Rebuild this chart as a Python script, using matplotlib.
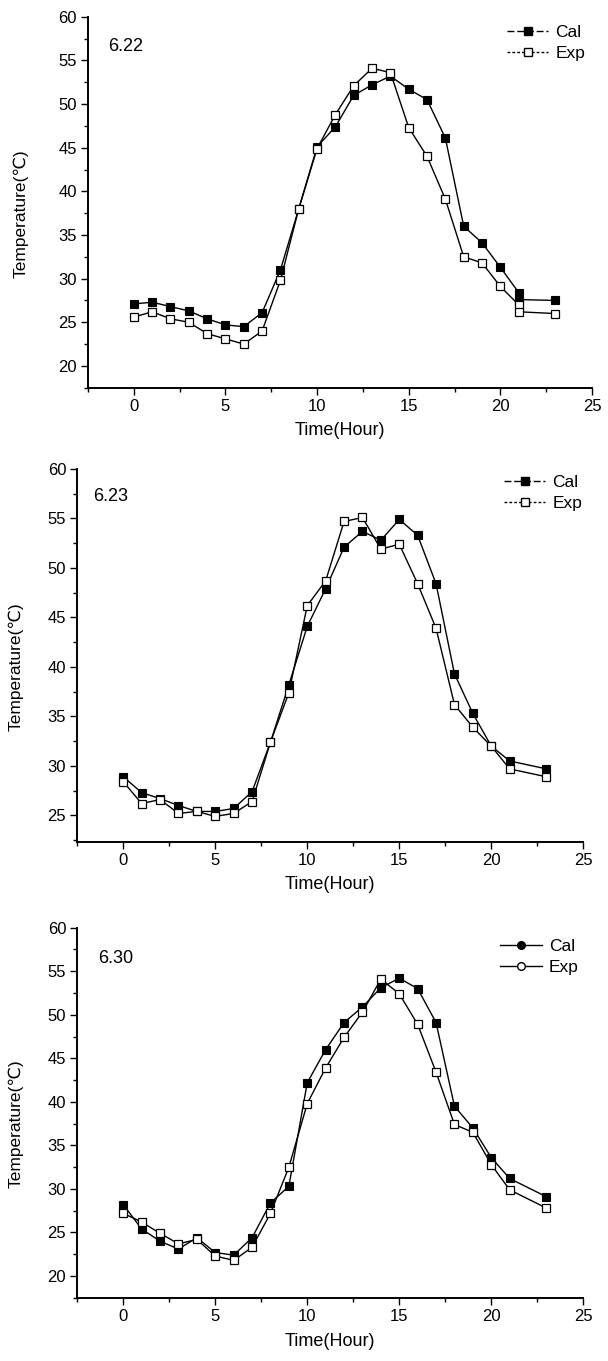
import matplotlib
matplotlib.use("Agg")
import matplotlib.pyplot as plt
from matplotlib.lines import Line2D
from matplotlib.ticker import MultipleLocator

plt.rcParams["font.family"] = ["Liberation Sans", "DejaVu Sans"]

# 6.22 (hour 21 appears twice in the source figure)
hours_622 = [0, 1, 2, 3, 4, 5, 6, 7, 8, 9, 10, 11, 12, 13, 14, 15, 16, 17, 18, 19, 20, 21, 21, 23]
cal_622 = [27.1, 27.3, 26.8, 26.3, 25.4, 24.7, 24.5, 26.1, 31.0, 38.0, 45.1, 47.4, 51.0, 52.2,
           53.2, 51.7, 50.5, 46.1, 36.0, 34.1, 31.3, 28.4, 27.6, 27.5]
exp_622 = [25.6, 26.2, 25.4, 25.0, 23.7, 23.1, 22.5, 24.0, 29.8, 38.0, 44.9, 48.8, 52.1, 54.1,
           53.6, 47.3, 44.0, 39.1, 32.5, 31.8, 29.1, 27.0, 26.2, 26.0]

# 6.23
hours_623 = [0, 1, 2, 3, 4, 5, 6, 7, 8, 9, 10, 11, 12, 13, 14, 15, 16, 17, 18, 19, 20, 21, 23]
cal_623 = [28.9, 27.3, 26.7, 26.0, 25.4, 25.4, 25.7, 27.4, 32.4, 38.2, 44.1, 47.9, 52.1, 53.7,
           52.8, 54.9, 53.3, 48.4, 39.3, 35.3, 32.0, 30.5, 29.7]
exp_623 = [28.4, 26.2, 26.6, 25.2, 25.4, 24.9, 25.2, 26.4, 32.4, 37.4, 46.2, 48.7, 54.7, 55.1,
           51.9, 52.4, 48.4, 43.9, 36.2, 33.9, 32.0, 29.7, 28.9]

# 6.30
hours_630 = [0, 1, 2, 3, 4, 5, 6, 7, 8, 9, 10, 11, 12, 13, 14, 15, 16, 17, 18, 19, 20, 21, 23]
cal_630 = [28.2, 25.4, 24.0, 23.1, 24.4, 22.7, 22.4, 24.4, 28.4, 30.3, 42.2, 46.0, 49.1, 50.9,
           53.1, 54.2, 53.0, 49.1, 39.5, 37.0, 33.6, 31.2, 29.1]
exp_630 = [27.2, 26.2, 24.9, 23.7, 24.2, 22.3, 21.8, 23.3, 27.2, 32.5, 39.8, 43.9, 47.4, 50.3,
           54.1, 52.4, 48.9, 43.4, 37.4, 36.5, 32.8, 29.9, 27.8]

# day, data, axes rect, y bottom, legend marker, legend anchor, day-label pos, ylabel x
panels = [
    ("6.22", hours_622, cal_622, exp_622, [0.1447, 0.7151, 0.8290, 0.2726], 17.5, "s",
     (0.831, 0.978), (0.040, 0.919), -0.117),
    ("6.23", hours_623, cal_623, exp_623, [0.1271, 0.3816, 0.8322, 0.2738], 22.35, "s",
     (0.843, 0.985), (0.031, 0.925), -0.106),
    ("6.30", hours_630, cal_630, exp_630, [0.1271, 0.0461, 0.8322, 0.2723], 17.45, "o",
     (0.836, 0.970), (0.041, 0.918), -0.106),
]

fig = plt.figure(figsize=(6.08, 13.61), dpi=100)

for day, hrs, cal, exp, pos, ymin, leg_marker, leg_xy, day_xy, ylab_x in panels:
    ax = fig.add_axes(pos)
    ax.plot(hrs, cal, color="black", lw=1.0, marker="s", ms=5.5,
            mfc="black", mec="black", mew=0.8)
    ax.plot(hrs, exp, color="black", lw=1.0, marker="s", ms=5.5,
            mfc="white", mec="black", mew=0.9)

    ax.set_xlim(-2.5, 25)
    ax.set_ylim(ymin, 60)
    ax.xaxis.set_major_locator(MultipleLocator(5))
    ax.xaxis.set_minor_locator(MultipleLocator(2.5))
    ax.yaxis.set_major_locator(MultipleLocator(5))
    ax.yaxis.set_minor_locator(MultipleLocator(2.5))
    ax.tick_params(which="major", direction="out", length=5, width=1, labelsize=12, pad=3)
    ax.tick_params(which="minor", direction="out", length=3, width=1)
    for s in ["top", "right"]:
        ax.spines[s].set_visible(False)
    for s in ["left", "bottom"]:
        ax.spines[s].set_linewidth(1.4)

    ax.set_xlabel("Time(Hour)", fontsize=13, labelpad=6)
    ax.set_ylabel("Temperature(℃)", fontsize=12.5)
    ax.yaxis.set_label_coords(ylab_x, 0.47)
    ax.text(day_xy[0], day_xy[1], day, transform=ax.transAxes, fontsize=13, va="center")

    if leg_marker == "s":
        h_cal = Line2D([], [], color="black", lw=1.0, ls=(0, (5, 2)), marker="s", ms=5.5, mfc="black")
        h_exp = Line2D([], [], color="black", lw=1.0, ls=(0, (2, 1.5)), marker="s", ms=5.5, mfc="white")
    else:
        h_cal = Line2D([], [], color="black", lw=1.0, marker="o", ms=5.5, mfc="black")
        h_exp = Line2D([], [], color="black", lw=1.0, marker="o", ms=5.5, mfc="white")
    ax.legend([h_cal, h_exp], ["Cal", "Exp"], loc="upper left", bbox_to_anchor=leg_xy,
              frameon=False, fontsize=12.5, handlelength=2.4, handletextpad=0.4,
              labelspacing=0.35, borderpad=0, borderaxespad=0)

fig.savefig("out.png", dpi=100)
